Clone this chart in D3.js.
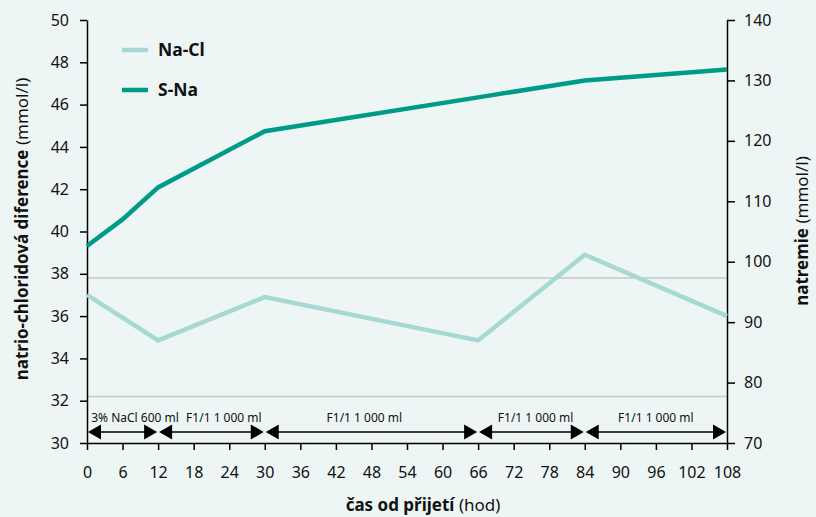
<!DOCTYPE html>
<html><head><meta charset="utf-8">
<script src="https://cdn.jsdelivr.net/npm/d3@7"></script>
<style>body{margin:0;background:#edf6f4}svg{display:block}</style>
</head><body><script>
// ---- data ----
const naclHours = [0, 12, 30, 66, 84, 108];
const naclValues = [37.0, 34.85, 36.9, 34.85, 38.9, 36.0];
const snaHours = [0, 6, 12, 30, 66, 84, 108];
const snaValues = [102.6, 107.0, 112.3, 121.6, 127.2, 130.0, 131.8];
const refLines = [37.8, 32.2];
const segStart = [0, 12, 30, 66, 84];
const segEnd = [12, 30, 66, 84, 108];
const segLabels = ["3% NaCl 600 ml", "F1/1 1 000 ml", "F1/1 1 000 ml", "F1/1 1 000 ml", "F1/1 1 000 ml"];
const segLabelAt = [8.1, 23.1, 46.8, 75.7, 96];
const xTicks = d3.range(0, 109, 6);
const leftTicks = [30, 32, 34, 36, 38, 40, 42, 44, 46, 48, 50];
const rightTicks = [70, 80, 90, 100, 110, 120, 130, 140];

const W = 816, H = 517;
const m = {left: 87, right: 89, top: 20, bottom: 74};
const font = "'Noto Sans', 'Open Sans', sans-serif";
const cLight = "#a6d9d2", cDark = "#009a88";

const svg = d3.select("body").append("svg").attr("width", W).attr("height", H)
  .style("background", "#edf6f4").style("font-family", font);

const x = d3.scaleLinear().domain([0, 108]).range([m.left, W - m.right]);
const yL = d3.scaleLinear().domain([30, 50]).range([H - m.bottom, m.top]);
const yR = d3.scaleLinear().domain([70, 140]).range([H - m.bottom, m.top]);

// reference lines
svg.selectAll(".ref").data(refLines).join("line")
  .attr("x1", x(0)).attr("x2", x(108))
  .attr("y1", d => yL(d)).attr("y2", d => yL(d))
  .attr("stroke", "#c4c8c8").attr("stroke-width", 1.5);

// axes
function styleAxis(g) {
  g.selectAll("path.domain").attr("stroke", "#000").attr("stroke-width", 1.5);
  g.selectAll(".tick line").attr("stroke", "#000").attr("stroke-width", 1.5);
  g.selectAll(".tick text").attr("fill", "#111").style("font-family", font).style("font-size", "16px");
}
svg.append("g").attr("transform", `translate(0,${H - m.bottom})`)
  .call(d3.axisBottom(x).tickValues(xTicks).tickSize(7).tickSizeOuter(0).tickPadding(17))
  .call(styleAxis);
svg.append("g").attr("transform", `translate(${m.left},0)`)
  .call(d3.axisLeft(yL).tickValues(leftTicks).tickSize(7).tickSizeOuter(0).tickPadding(11))
  .call(styleAxis);
svg.append("g").attr("transform", `translate(${W - m.right},0)`)
  .call(d3.axisRight(yR).tickValues(rightTicks).tickSize(8).tickSizeOuter(0).tickPadding(9))
  .call(styleAxis);

// lines
const naclData = naclHours.map((h, i) => [h, naclValues[i]]);
const snaData = snaHours.map((h, i) => [h, snaValues[i]]);
svg.append("path").datum(naclData)
  .attr("d", d3.line().x(d => x(d[0])).y(d => yL(d[1])))
  .attr("fill", "none").attr("stroke", cLight).attr("stroke-width", 4.5);
svg.append("path").datum(snaData)
  .attr("d", d3.line().x(d => x(d[0])).y(d => yR(d[1])))
  .attr("fill", "none").attr("stroke", cDark).attr("stroke-width", 4.5);

// treatment arrows
const ay = H - m.bottom - 11;
const aLen = 13, aHalf = 7.5;
segStart.forEach((s, i) => {
  const x1 = x(s) + 1, x2 = x(segEnd[i]) - 1;
  const g = svg.append("g");
  g.append("line").attr("x1", x1 + aLen - 1).attr("x2", x2 - aLen + 1)
    .attr("y1", ay).attr("y2", ay).attr("stroke", "#000").attr("stroke-width", 1.5);
  g.append("path").attr("d", `M${x1},${ay}L${x1 + aLen},${ay - aHalf}L${x1 + aLen},${ay + aHalf}Z`).attr("fill", "#000");
  g.append("path").attr("d", `M${x2},${ay}L${x2 - aLen},${ay - aHalf}L${x2 - aLen},${ay + aHalf}Z`).attr("fill", "#000");
  g.append("text").attr("x", x(segLabelAt[i])).attr("y", ay - 10)
    .attr("text-anchor", "middle").style("font-size", "12px").attr("fill", "#111")
    .text(segLabels[i]);
});

// legend
const legend = [["Na-Cl", cLight], ["S-Na", cDark]];
legend.forEach((d, i) => {
  const ly = 50 + i * 40;
  svg.append("line").attr("x1", 122).attr("x2", 148).attr("y1", ly).attr("y2", ly)
    .attr("stroke", d[1]).attr("stroke-width", 4.5);
  svg.append("text").attr("x", 158).attr("y", ly + 6).style("font-size", "17.5px")
    .style("font-weight", "bold").attr("fill", "#111").text(d[0]);
});

// axis titles
const bt = svg.append("text").attr("x", 423).attr("y", 511)
  .attr("text-anchor", "middle").style("font-size", "17px").attr("fill", "#111");
bt.append("tspan").style("font-weight", "bold").text("čas od přijetí");
bt.append("tspan").text(" (hod)");

const lt = svg.append("text").attr("transform", `translate(28,229) rotate(-90)`)
  .attr("text-anchor", "middle").style("font-size", "17px").attr("fill", "#111");
lt.append("tspan").style("font-weight", "bold").text("natrio-chloridová diference");
lt.append("tspan").text(" (mmol/l)");

const rt = svg.append("text").attr("transform", `translate(808,231) rotate(-90)`)
  .attr("text-anchor", "middle").style("font-size", "17px").attr("fill", "#111");
rt.append("tspan").style("font-weight", "bold").text("natremie");
rt.append("tspan").text(" (mmol/l)");
</script></body></html>
